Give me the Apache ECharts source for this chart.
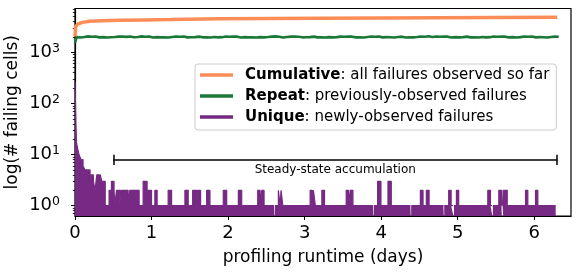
<!DOCTYPE html>
<html><head><meta charset="utf-8">
<script src="https://cdn.jsdelivr.net/npm/echarts@6/dist/echarts.min.js"></script>
<style>html,body{margin:0;padding:0;background:#fff}#c{width:581px;height:273px}</style>
</head><body><div id="c"></div>
<script>
// ---- data ----
const seriesNames = ['Cumulative', 'Repeat', 'Unique'];
const legendDescriptions = ['all failures observed so far', 'previously-observed failures', 'newly-observed failures'];

// Cumulative failures [day, count]
const cumulativePts = [
  [0.000, 2060], [0.005, 2800], [0.010, 3236], [0.040, 3606], [0.100, 3850], [0.190, 4055],
  [0.350, 4160], [0.585, 4240], [0.900, 4310], [1.240, 4373], [1.900, 4515], [2.550, 4580],
  [3.200, 4620], [4.000, 4680], [4.770, 4730], [5.500, 4790], [6.300, 4855]
];

// Repeat failures: first point, then samples every repeatStep days from repeatStart
const repeatFirst = [0.0, 1530];
const repeatStart = 0.02;
const repeatStep = 0.025;
const repeatValues = [
  1980,2040,1950,2020,1990,1960,2050,1975,2010,1945,2035,1995,1960,2045,1985,2015,1950,2030,1970,2055,
  1990,1955,2025,1980,2040,1960,2005,1950,2045,1985,1965,2030,2000,1955,2050,1975,2020,1960,2035,1990,
  1950,2040,1985,2010,1960,2055,1970,2025,1945,2035,1995,1965,2045,1980,2015,1955,2040,1990,1960,2030,
  1975,2050,1985,1950,2030,1995,1965,2045,1970,2020,1950,2040,1990,2005,1960,2050,1980,1955,2035,1985,
  2015,1950,2045,1970,2025,1990,1955,2040,1980,2010,1960,2050,1975,1995,1945,2035,1985,2020,1960,2045,
  1990,1950,2030,1975,2055,1965,2015,1985,1950,2040,1995,1960,2025,1980,2045,1955,2010,1990,1965,2035,
  1970,2050,1985,1955,2030,2000,1960,2045,1975,2020,1950,2040,1985,2010,1965,2050,1980,1955,2030,1990,
  2015,1945,2040,1975,2025,1985,1960,2050,1970,2005,1955,2035,1995,1965,2045,1980,2015,1950,2040,1990,
  1960,2030,1980,2050,1970,2010,1950,2040,1990,1965,2025,1985,1955,2045,1975,2020,1960,2035,1995,1950,
  2040,1980,2010,1960,2055,1975,1995,1950,2035,1985,2015,1960,2045,1970,2025,1990,1955,2040,1980,2005,
  1965,2050,1985,1950,2030,1995,1960,2040,1975,2020,1950,2045,1990,2010,1960,2035,1980,1955,2040,1985,
  2015,1955,2045,1970,2025,1990,1960,2050,1980,2000,1950,2035,1985,1965,2045,1975,2020,1955,2040,1990,
  1960,2030,1980,2045,1970,2010,1950,2040,1995,1965,2025,1975,2010
];

// Unique failures as step change points [day, count]; null = gap
const uniqueSteps = [
  [0.000, 270],[0.012, 40],[0.020, 17],[0.035, 13],[0.052, 10],[0.078, 8],[0.105, 6],[0.131, 5],
  [0.166, 5],[0.197, 4],[0.241, 3],[0.262, 2],[0.284, 4],[0.330, 4],[0.350, 3],[0.395, 1],
  [0.445, 2],[0.476, 3],[0.510, 2],[0.520, 1],
  [0.542, 2],[0.585, 1],
  [0.598, 2],[0.694, 1],
  [0.716, 2],[0.838, 1],
  [0.890, 3],[0.942, 1],
  [0.955, 2],[1.000, 1],
  [1.043, 2],[1.073, 1],
  [1.217, 2],[1.262, 1],
  [1.436, 2],[1.479, 1],
  [1.537, 2],[1.589, 1],
  [1.602, 2],[1.641, 1],
  [1.720, 2],[1.763, 1],
  [1.937, 2],[1.982, 1],
  [2.134, 2],[2.178, 1],
  [2.387, 2],[2.418, 1],
  [2.440, 2],[2.470, 1],
  [2.600, 1],[2.605, null],[2.611, 1],
  [2.657, 2],[2.680, 1],
  [2.692, 2],[2.715, 1],
  [3.072, 2],[3.100, 1],
  [3.115, 2],[3.140, 1],
  [3.225, 2],[3.260, 1],
  [3.543, 2],[3.573, 1],
  [3.596, 2],[3.631, 1],
  [3.893, 1],[3.898, null],[3.904, 1],
  [3.953, 3],[3.997, 1],
  [4.089, 3],[4.132, 1],
  [4.381, 1],[4.386, null],[4.392, 1],
  [4.512, 2],[4.547, 1],
  [4.590, 2],[4.626, 1],
  [4.813, 1],[4.818, null],[4.824, 1],
  [4.882, 2],[4.914, 1],
  [4.940, 1],[4.945, null],[4.951, 1],
  [4.983, 2],[5.013, 1],
  [5.393, 2],[5.428, 1],
  [5.448, 1],[5.453, null],[5.459, 1],
  [5.537, 2],[5.572, 1],
  [5.576, null],[5.586, 1],
  [5.594, 2],[5.647, 1],
  [5.886, 2],[5.916, 1],
  [6.017, 2],[6.047, 1],
  [6.280, 1]
];

// axes
const xTicks = [0, 1, 2, 3, 4, 5, 6];
const xRange = [0, 6.48];
const yRange = [0.628, 7200];
const yMajorTicks = [1, 10, 100, 1000];
const yMinorTicks = [0.7, 0.8, 0.9, 2, 3, 4, 5, 6, 7, 8, 9, 20, 30, 40, 50, 60, 70, 80, 90,
  200, 300, 400, 500, 600, 700, 800, 900, 2000, 3000, 4000, 5000, 6000, 7000];

// annotation
const annotationText = 'Steady-state accumulation';
const annotationSpan = [0.5, 6.3];
const annotationLevel = 7.87;
const annotationCap = [6.28, 9.87];

// ---- chart ----
const FONT = 'DejaVu Sans';
const colors = ['#fc8d59', '#1b7837', '#762a83'];
const repeatPts = [repeatFirst].concat(repeatValues.map((v, i) => [repeatStart + i * repeatStep, v]));

const chart = echarts.init(document.getElementById('c'), null, {renderer: 'canvas'});
const yAxisCommon = {
  type: 'log', logBase: 10, min: yRange[0], max: yRange[1], position: 'left',
  splitLine: {show: false}, minorTick: {show: false}, minorSplitLine: {show: false}
};
chart.setOption({
  animation: false,
  backgroundColor: '#fff',
  grid: {left: 75, right: 10, top: 8.5, bottom: 57, show: true, borderColor: '#000', borderWidth: 1.2,
         containLabel: false, outerBoundsMode: 'none'},
  legend: {
    data: seriesNames, orient: 'vertical', left: 195, top: 64,
    icon: 'rect', itemWidth: 33, itemHeight: 3.5, itemGap: 6,
    padding: [3.5, 7, 5.5, 5],
    backgroundColor: '#fff', borderColor: '#cccccc', borderWidth: 1, borderRadius: 3,
    selectedMode: false,
    formatter: name => '{b|' + name + '}{n|: ' + legendDescriptions[seriesNames.indexOf(name)] + '}',
    textStyle: {
      fontFamily: FONT, fontSize: 15, color: '#000',
      rich: {
        b: {fontFamily: FONT, fontSize: 15, fontWeight: 'bold', color: '#000', lineHeight: 17, padding: [0, 0, 0, 7]},
        n: {fontFamily: FONT, fontSize: 15, color: '#000', lineHeight: 17}
      }
    }
  },
  xAxis: {
    type: 'value', min: xRange[0], max: xRange[1],
    name: 'profiling runtime (days)', nameLocation: 'middle', nameGap: 33, nameMoveOverlap: false,
    nameTextStyle: {fontFamily: FONT, fontSize: 17, color: '#000'},
    axisLine: {show: true, onZero: false, lineStyle: {color: '#000', width: 1.2}},
    axisTick: {show: true, length: 4, lineStyle: {color: '#000', width: 1}, customValues: xTicks},
    axisLabel: {customValues: xTicks, margin: 8, fontFamily: FONT, fontSize: 18, color: '#000'},
    splitLine: {show: false}
  },
  yAxis: [
    Object.assign({}, yAxisCommon, {
      name: 'log(# failing cells)', nameLocation: 'middle', nameRotate: 90, nameGap: 54, nameMoveOverlap: false,
      nameTextStyle: {fontFamily: FONT, fontSize: 17, color: '#000'},
      axisLine: {show: true, lineStyle: {color: '#000', width: 1.2}},
      axisTick: {show: true, length: 4, lineStyle: {color: '#000', width: 1}, customValues: yMajorTicks},
      axisLabel: {
        customValues: yMajorTicks, margin: 15,
        formatter: v => '{a|10}{b|' + Math.round(Math.log10(v)) + '}',
        rich: {
          a: {fontFamily: FONT, fontSize: 18, color: '#000', lineHeight: 20},
          b: {fontFamily: FONT, fontSize: 12.5, color: '#000', lineHeight: 11, verticalAlign: 'top'}
        }
      }
    }),
    Object.assign({}, yAxisCommon, {
      axisLine: {show: false},
      axisTick: {show: true, length: 2.2, lineStyle: {color: '#000', width: 0.8}, customValues: yMinorTicks},
      axisLabel: {show: false}
    })
  ],
  series: [
    {
      name: 'Cumulative', type: 'line', data: cumulativePts, showSymbol: false, symbol: 'none',
      color: colors[0], lineStyle: {color: colors[0], width: 3.5}, z: 4
    },
    {
      name: 'Repeat', type: 'line', data: repeatPts, showSymbol: false, symbol: 'none',
      color: colors[1], lineStyle: {color: colors[1], width: 2.6}, z: 3
    },
    {
      name: 'Unique', type: 'line', data: uniqueSteps, step: 'end', showSymbol: false, symbol: 'none',
      connectNulls: false,
      color: colors[2], lineStyle: {color: colors[2], width: 1.2},
      areaStyle: {color: colors[2], opacity: 1, origin: 'start'}, z: 2,
      markLine: {
        silent: true, symbol: 'none', animation: false,
        lineStyle: {color: '#000', width: 1.5, type: 'solid'},
        label: {show: false},
        data: [
          [{coord: [annotationSpan[0], annotationLevel], name: annotationText,
            label: {show: true, position: 'insideMiddleBottom', distance: 4, formatter: '{b}',
                    fontFamily: FONT, fontSize: 12, color: '#000'}},
           {coord: [annotationSpan[1], annotationLevel]}],
          [{coord: [annotationSpan[0], annotationCap[0]]}, {coord: [annotationSpan[0], annotationCap[1]]}],
          [{coord: [annotationSpan[1], annotationCap[0]]}, {coord: [annotationSpan[1], annotationCap[1]]}]
        ]
      }
    }
  ]
});
</script>
</body></html>
